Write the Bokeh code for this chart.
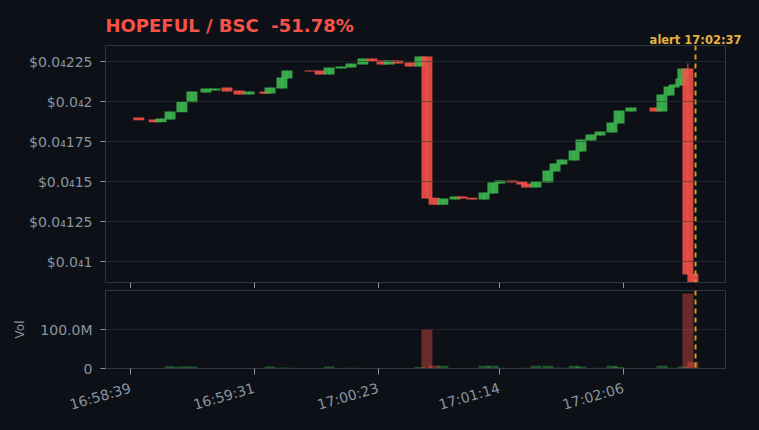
from bokeh.plotting import figure
from bokeh.layouts import column
from bokeh.models import ColumnDataSource, FixedTicker, Span, Range1d, Title
from bokeh.embed import file_html
from bokeh.resources import INLINE

# ---------------- data ----------------
title_text = "HOPEFUL / BSC \u00a0-51.78%"
alert_text = "alert 17:02:37"
alert_t = 237.3          # seconds after 16:58:39

# candle times: seconds after 16:58:39
t_sec = [3.5, 9.9, 12.8, 16.6, 21.6, 25.8, 31.7, 35.5, 40.5, 45.6,
         49.8, 56.5, 58.6, 63.6, 65.7, 75.4, 79.6, 83.4, 88.4, 92.6,
         97.6, 101.4, 105.6, 108.6, 112.3, 117.4, 121.6, 124.5, 127.5, 131.2,
         136.3, 139.2, 143.4, 148.5, 152.2, 155.2, 160.2, 164.4, 166.3, 170.3,
         175.3, 178.3, 181.2, 186.3, 189.2, 193.4, 197.2, 202.2, 205.2, 210.2,
         220.3, 223.2, 226.2, 228.3, 231.2, 232.0, 234.1, 236.2]

# prices in units of 1e-5 USD
open_e5 = [1.902, 1.889, 1.872, 1.889, 1.935, 1.998, 2.058, 2.071, 2.089, 2.070,
           2.045, 2.064, 2.052, 2.083, 2.146, 2.196, 2.195, 2.170, 2.208, 2.214,
           2.233, 2.270, 2.258, 2.233, 2.258, 2.245, 2.220, 2.283, 1.400, 1.357,
           1.389, 1.408, 1.400, 1.389, 1.427, 1.489, 1.508, 1.502, 1.489, 1.464,
           1.495, 1.564, 1.608, 1.633, 1.689, 1.758, 1.789, 1.808, 1.864, 1.939,
           1.964, 1.939, 2.039, 2.089, 2.102, 2.139, 2.208, 0.925]
close_e5 = [1.885, 1.872, 1.896, 1.939, 2.000, 2.064, 2.083, 2.083, 2.064, 2.045,
            2.064, 2.050, 2.089, 2.152, 2.195, 2.190, 2.170, 2.214, 2.220, 2.239,
            2.270, 2.252, 2.233, 2.258, 2.239, 2.220, 2.283, 1.395, 1.357, 1.395,
            1.408, 1.395, 1.390, 1.433, 1.495, 1.508, 1.495, 1.483, 1.464, 1.502,
            1.570, 1.614, 1.639, 1.695, 1.764, 1.795, 1.814, 1.870, 1.945, 1.964,
            1.939, 2.045, 2.095, 2.108, 2.145, 2.208, 0.921, 0.840]
high_e5 = [1.902, 1.889, 1.896, 1.939, 2.000, 2.064, 2.083, 2.083, 2.089, 2.070,
           2.064, 2.064, 2.089, 2.152, 2.195, 2.196, 2.195, 2.214, 2.220, 2.239,
           2.270, 2.270, 2.258, 2.258, 2.258, 2.245, 2.283, 2.283, 1.400, 1.395,
           1.408, 1.408, 1.400, 1.433, 1.495, 1.508, 1.508, 1.502, 1.489, 1.502,
           1.570, 1.614, 1.639, 1.695, 1.764, 1.795, 1.814, 1.870, 1.945, 1.964,
           1.964, 2.045, 2.095, 2.108, 2.145, 2.208, 2.240, 0.925]
low_e5 = [1.885, 1.872, 1.872, 1.889, 1.935, 1.998, 2.058, 2.071, 2.064, 2.045,
          2.045, 2.050, 2.052, 2.083, 2.146, 2.190, 2.170, 2.170, 2.208, 2.214,
          2.233, 2.252, 2.233, 2.233, 2.239, 2.220, 2.220, 1.395, 1.357, 1.357,
          1.389, 1.395, 1.390, 1.389, 1.427, 1.489, 1.495, 1.483, 1.464, 1.464,
          1.495, 1.564, 1.608, 1.633, 1.689, 1.758, 1.789, 1.808, 1.864, 1.939,
          1.939, 1.939, 2.039, 2.089, 2.102, 2.139, 0.921, 0.840]
# volume in millions
vol_m = [0.5, 0.5, 1, 6, 5, 5, 1, 0.5, 0.5, 0.5,
         0.5, 0.5, 5, 2, 2, 0.5, 0.5, 5, 1, 2,
         1, 1, 0.5, 0.5, 0.5, 1, 4, 100, 8, 7,
         1, 0.5, 0.5, 7, 7, 2, 1, 1, 2, 7,
         7, 2, 2, 7, 5, 1, 2, 7, 4, 1,
         1, 7, 2, 1, 1, 5, 193, 17]

x_ticks = [0, 52, 104, 155, 207]
x_tick_labels = ["16:58:39", "16:59:31", "17:00:23", "17:01:14", "17:02:06"]
y_ticks = [1.0, 1.25, 1.5, 1.75, 2.0, 2.25]
y_tick_labels = ["$0.0\u20841", "$0.0\u2084125", "$0.0\u208415", "$0.0\u2084175",
                 "$0.0\u20842", "$0.0\u2084225"]
vol_ticks = [0, 100]
vol_tick_labels = ["0", "100.0M"]

# ---------------- style ----------------
BG = "#0d1117"
BORDER = "#30363d"
MUTED = "#8b949e"
UP = "#3fb950"
DOWN = "#f85149"
GOLD = "#d29922"
GOLD_T = "#e3b341"
FONT = "DejaVu Sans"
CW = 4.6

colors = [DOWN if c < o else UP for o, c in zip(open_e5, close_e5)]
src = ColumnDataSource(dict(
    t=t_sec,
    top=[max(o, c) for o, c in zip(open_e5, close_e5)],
    bottom=[min(o, c) for o, c in zip(open_e5, close_e5)],
    high=high_e5, low=low_e5, color=colors,
    vol=vol_m,
))

x_range = Range1d(-10.5, 249.9)

p = figure(frame_width=620, frame_height=237, x_range=x_range,
           y_range=Range1d(0.8706, 2.352),
           output_backend="svg", toolbar_location=None,
           min_border_left=105, min_border_right=26, min_border_top=45,
           min_border_bottom=0,
           background_fill_color=BG, border_fill_color=BG,
           outline_line_color=BORDER)

# titles in the top border: first added sits nearest the frame
p.add_layout(Title(text=alert_text, align="right", offset=-16, standoff=-2,
                   text_color=GOLD_T, text_font=FONT, text_font_size="11.5px",
                   text_font_style="bold"), "above")
p.add_layout(Title(text=title_text, align="left", standoff=-9,
                   text_color=DOWN, text_font=FONT, text_font_size="18px",
                   text_font_style="bold"), "above")

p.segment(x0="t", x1="t", y0="low", y1="high", color="color", line_width=1, source=src)
p.vbar(x="t", width=CW, top="top", bottom="bottom", fill_color="color",
       line_color=None, fill_alpha=0.88, source=src)

p.xgrid.visible = False
p.ygrid.grid_line_color = BORDER
p.ygrid.grid_line_alpha = 0.55
p.ygrid.level = "overlay"
p.ygrid.ticker = FixedTicker(ticks=y_ticks)

p.yaxis.ticker = FixedTicker(ticks=y_ticks)
p.yaxis.major_label_overrides = dict(zip(y_ticks, y_tick_labels))
p.xaxis.ticker = FixedTicker(ticks=x_ticks)
for ax in (p.xaxis[0], p.yaxis[0]):
    ax.axis_line_color = BORDER
    ax.major_tick_line_color = MUTED
    ax.major_tick_out = 5
    ax.major_tick_in = 0
    ax.minor_tick_line_color = None
    ax.major_label_text_color = MUTED
    ax.major_label_text_font = FONT
p.yaxis.major_label_text_font_size = "14px"
p.yaxis.major_label_standoff = 8
p.xaxis.major_tick_out = 6
p.xaxis.major_label_text_color = None
p.xaxis.major_label_text_font_size = "1px"
p.xaxis.major_label_standoff = 0

p.add_layout(Span(location=alert_t, dimension="height", line_color=GOLD,
                  line_dash="5 4", line_width=2))

# ---------------- volume ----------------
v = figure(frame_width=620, frame_height=78, x_range=x_range,
           y_range=Range1d(0, 200.8),
           output_backend="svg", toolbar_location=None,
           min_border_left=105, min_border_right=26, min_border_top=2,
           min_border_bottom=0,
           background_fill_color=BG, border_fill_color=BG,
           outline_line_color=BORDER)
v.vbar(x="t", width=CW, top="vol", bottom=0, fill_color="color", line_color=None,
       fill_alpha=0.4, source=src)
v.xgrid.visible = False
v.ygrid.grid_line_color = BORDER
v.ygrid.grid_line_alpha = 0.55
v.ygrid.ticker = FixedTicker(ticks=vol_ticks)
v.yaxis.ticker = FixedTicker(ticks=vol_ticks)
v.yaxis.major_label_overrides = dict(zip(vol_ticks, vol_tick_labels))
v.yaxis.axis_label = "Vol"
v.yaxis.axis_label_text_font_size = "12px"
v.yaxis.axis_label_text_font_style = "normal"
v.yaxis.axis_label_text_color = MUTED
v.yaxis.axis_label_text_font = FONT
v.yaxis.axis_label_standoff = 10
v.xaxis.ticker = FixedTicker(ticks=x_ticks)
v.xaxis.major_label_overrides = dict(zip(x_ticks, x_tick_labels))
v.xaxis.major_label_orientation = 0.28
for ax in (v.xaxis[0], v.yaxis[0]):
    ax.axis_line_color = BORDER
    ax.major_tick_line_color = MUTED
    ax.major_tick_out = 5
    ax.major_tick_in = 0
    ax.minor_tick_line_color = None
    ax.major_label_text_color = MUTED
    ax.major_label_text_font = FONT
    ax.major_label_text_font_size = "14px"
v.yaxis.major_label_standoff = 8
v.xaxis.major_tick_out = 6
v.xaxis.major_label_standoff = 13
v.add_layout(Span(location=alert_t, dimension="height", line_color=GOLD,
                  line_dash="5 4", line_width=2))

layout = column(p, v, spacing=0, styles={"background-color": BG})

html = file_html(layout, INLINE)
html = html.replace("<body>", "<body style=\"background-color:%s;\">" % BG)
open("out.html", "w").write(html)
